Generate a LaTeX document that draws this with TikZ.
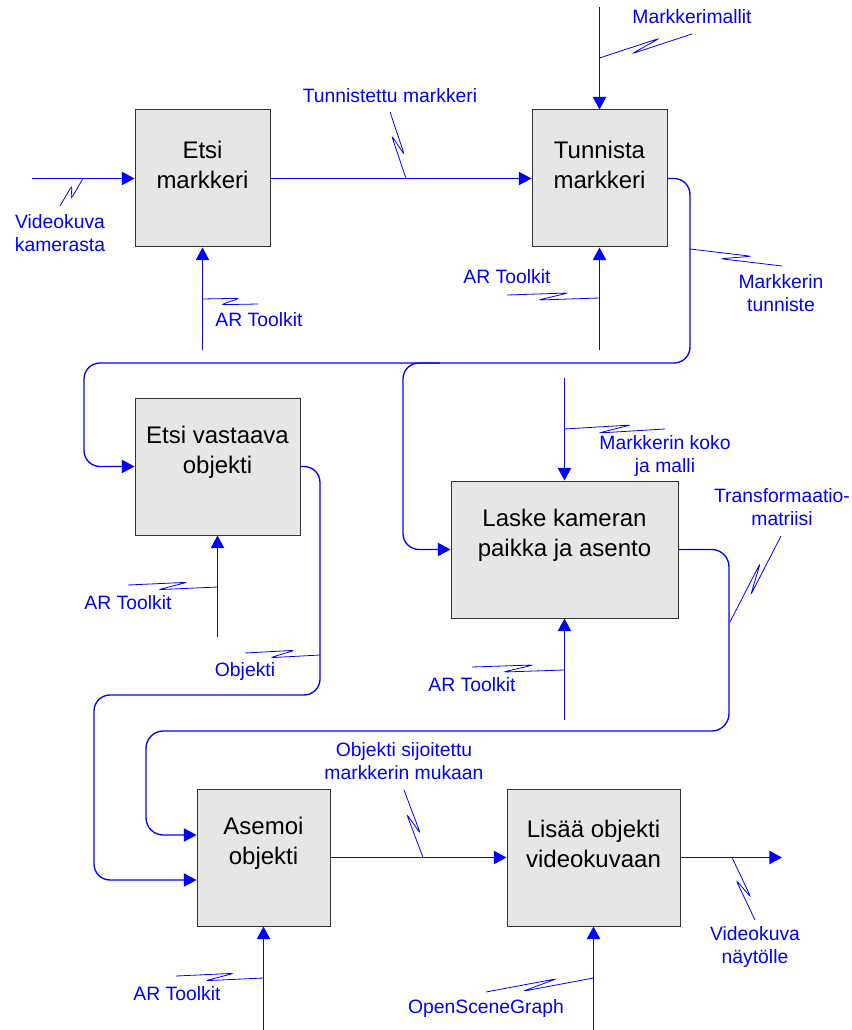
\documentclass[tikz,border=0pt]{standalone}
\usepackage{fontspec}
\setmainfont{Liberation Sans}
\usetikzlibrary{arrows.meta,calc}
\definecolor{lnblue}{RGB}{0,0,255}
\definecolor{boxgray}{RGB}{230,230,230}
\tikzset{
  box/.style={draw=black!80, fill=boxgray, line width=0.75pt, inner sep=0pt},
  boxtext/.style={align=center, inner sep=0pt, font=\fontsize{18}{22.5}\selectfont},
  lbl/.style={text=lnblue, align=center, inner sep=0pt, font=\fontsize{14.5}{16.8}\selectfont},
  conn/.style={draw=lnblue, line width=1pt},
  arr/.style={conn, -{Triangle[length=9.5pt,width=10pt]}},
  sqline/.style={draw=lnblue, line width=0.6pt, rounded corners=2.5pt},
}
\newcommand\squig[2]{\draw[sqline] (#1) -- ($(#1)!0.66!(#2)!3pt!90:(#2)$) -- ($(#1)!0.34!(#2)!3pt!-90:(#2)$) -- (#2);}
\begin{document}
\begin{tikzpicture}[x=0.75pt,y=-0.75pt]
\useasboundingbox (0,0) rectangle (851,1030);
% boxes
\node[box, minimum width=101.25pt, minimum height=102.75pt] (b1) at (202.5,178.5) {};
\node[box, minimum width=101.25pt, minimum height=102.75pt] (b2) at (599.5,178.5) {};
\node[box, minimum width=123.75pt, minimum height=102.75pt] (b3) at (217.5,466.5) {};
\node[box, minimum width=170.25pt, minimum height=102.75pt] (b4) at (564.5,549.5) {};
\node[box, minimum width=99.75pt, minimum height=102.75pt] (b5) at (263.5,857.5) {};
\node[box, minimum width=129.75pt, minimum height=102.75pt] (b6) at (593.5,857.5) {};
\node[boxtext] (t1) at ($(b1.center)+(0,-14)$) {Etsi\\markkeri};
\node[boxtext] (t2) at ($(b2.center)+(0,-14)$) {Tunnista\\markkeri};
\node[boxtext] (t3) at ($(b3.center)+(0,-14)$) {Etsi vastaava\\objekti};
\node[boxtext] (t4) at ($(b4.center)+(0,-14)$) {Laske kameran\\paikka ja asento};
\node[boxtext] (t5) at ($(b5.center)+(0,-14)$) {Asemoi\\objekti};
\node[boxtext] (t6) at ($(b6.center)+(0,-14)$) {Lisää objekti\\videokuvaan};
% free ends
\coordinate (in1) at (32,178.5);
\coordinate (in2a) at (202.5,350);
\coordinate (in2b) at (599.5,7);
\coordinate (in2c) at (599.5,350);
\coordinate (in3a) at (217.5,637);
\coordinate (in4a) at (564.5,378);
\coordinate (in4b) at (564.5,720);
\coordinate (in5a) at (263.5,1030);
\coordinate (in6a) at (593.5,1030);
\coordinate (out6) at (782,857.5);
% connectors
\draw[arr] (in1) -- (b1.west);
\draw[arr] (in2a) -- (b1.south);
\draw[arr] (b1.east) -- (b2.west);
\draw[arr] (in2b) -- (b2.north);
\draw[arr] (in2c) -- (b2.south);
\draw[arr, rounded corners=12pt] (b2.east) -- (690,178.5) -- (690,363) -- (84,363) -- (84,466.5) -- (b3.west);
\draw[arr, rounded corners=12pt] (440,363) -- (403,363) -- (403,549.5) -- (b4.west);
\draw[arr] (in3a) -- (b3.south);
\draw[arr] (in4a) -- (b4.north);
\draw[arr] (in4b) -- (b4.south);
\draw[arr, rounded corners=12pt] (b3.east) -- (320,466.5) -- (320,695) -- (94,695) -- (94,880) -- ($(b5.west)+(0,22.5)$);
\draw[arr, rounded corners=13pt] (b4.east) -- (729,549.5) -- (729,731) -- (146,731) -- (146,835) -- ($(b5.west)+(0,-22.5)$);
\draw[arr] (b5.east) -- (b6.west);
\draw[arr] (b6.east) -- (out6);
\draw[arr] (in5a) -- (b5.south);
\draw[arr] (in6a) -- (b6.south);
% squiggles
\squig{83,178.5}{60,206}
\squig{202.5,299}{258,304}
\squig{406,178.5}{390,112}
\squig{599.5,58}{692,34}
\squig{599.5,298}{507,295}
\squig{690,249}{782,266}
\squig{217.5,587}{128,585}
\squig{320,655}{245,653}
\squig{564.5,429}{665,429}
\squig{564.5,670}{472,667}
\squig{730,622}{781,536}
\squig{423,857.5}{404,790}
\squig{732,857.5}{755,920}
\squig{263.5,978}{176,976}
\squig{593.5,978}{486,992}
% labels
\node[lbl] (l1) at (60,233) {Videokuva\\kamerasta};
\node[lbl] (l2) at (259,320) {AR Toolkit};
\node[lbl] (l3) at (390,96) {Tunnistettu markkeri};
\node[lbl] (l4) at (692,17) {Markkerimallit};
\node[lbl] (l5) at (507,277) {AR Toolkit};
\node[lbl] (l6) at (781,293) {Markkerin\\tunniste};
\node[lbl] (l7) at (128,603) {AR Toolkit};
\node[lbl] (l8) at (245,671) {Objekti};
\node[lbl] (l9) at (665,456) {Markkerin koko\\ja malli};
\node[lbl] (l10) at (472,685) {AR Toolkit};
\node[lbl] (l11) at (782,507) {Transformaatio-\\matriisi};
\node[lbl] (l12) at (404,761) {Objekti sijoitettu\\markkerin mukaan};
\node[lbl] (l13) at (755,947) {Videokuva\\näytölle};
\node[lbl] (l14) at (177,994) {AR Toolkit};
\node[lbl] (l15) at (486,1008) {OpenSceneGraph};
\end{tikzpicture}
\end{document}
